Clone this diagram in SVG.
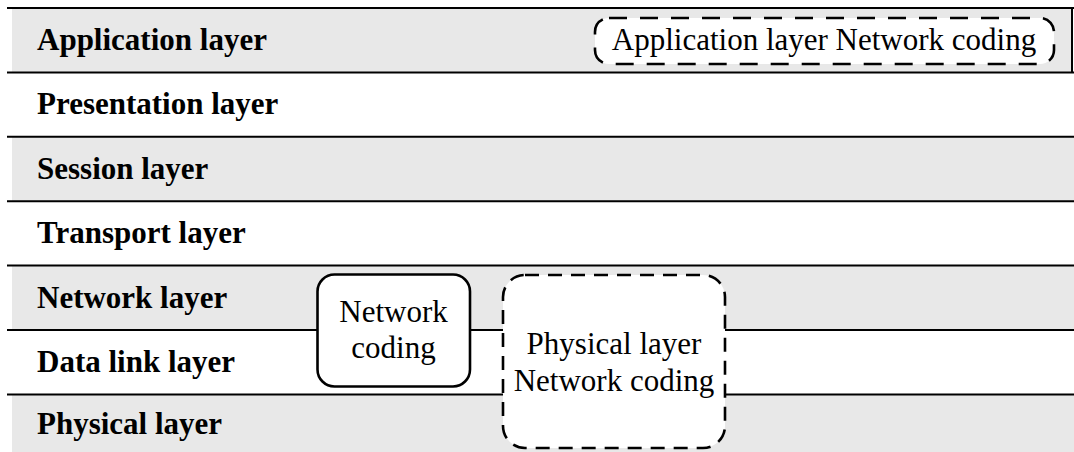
<svg xmlns="http://www.w3.org/2000/svg" width="1074" height="452" viewBox="0 0 1074 452">
  <style>
    .band { fill: #e8e8e8; }
    .rule { stroke: #000; stroke-width: 2; fill: none; }
    .layer { font-family: "Liberation Serif", "Times New Roman", serif; font-weight: bold; font-size: 31px; fill: #000; }
    .nc { font-family: "Liberation Serif", "Times New Roman", serif; font-size: 31px; fill: #000; text-anchor: middle; }
    .box { fill: #fff; stroke: #000; stroke-width: 2.6; }
  </style>
  <rect width="1074" height="452" fill="#fff"/>

  <!-- layer bands -->
  <g id="layers">
    <rect class="band" x="12" y="8" width="1060" height="64.4"/>
    <rect class="band" x="12" y="136.8" width="1062" height="64.4"/>
    <rect class="band" x="12" y="265.6" width="1062" height="64.4"/>
    <rect class="band" x="12" y="394.4" width="1062" height="60"/>
  </g>

  <!-- separating rules -->
  <g id="rules">
    <line class="rule" x1="7" y1="8" x2="1074" y2="8"/>
    <line class="rule" x1="7" y1="72.4" x2="1074" y2="72.4"/>
    <line class="rule" x1="1072" y1="8" x2="1072" y2="72.4"/>
    <line class="rule" x1="7" y1="136.8" x2="1074" y2="136.8"/>
    <line class="rule" x1="7" y1="201.2" x2="1074" y2="201.2"/>
    <line class="rule" x1="7" y1="265.6" x2="1074" y2="265.6"/>
    <line class="rule" x1="7" y1="330" x2="1074" y2="330"/>
    <line class="rule" x1="7" y1="394.4" x2="1074" y2="394.4"/>
  </g>

  <g id="layer-labels">
    <text class="layer" x="37" y="49.5">Application layer</text>
    <text class="layer" x="37" y="114">Presentation layer</text>
    <text class="layer" x="37" y="178.5">Session layer</text>
    <text class="layer" x="37" y="243">Transport layer</text>
    <text class="layer" x="37" y="307.5">Network layer</text>
    <text class="layer" x="37" y="372">Data link layer</text>
    <text class="layer" x="37" y="434">Physical layer</text>
  </g>

  <g id="app-nc">
    <rect class="box" x="595" y="18" width="459" height="46" rx="14" stroke-dasharray="18 13"/>
    <text class="nc" x="824" y="50">Application layer Network coding</text>
  </g>

  <g id="net-nc">
    <rect class="box" x="317.5" y="274.5" width="152.5" height="112" rx="17"/>
    <text class="nc" x="393.5" y="322">Network</text>
    <text class="nc" x="393.5" y="358">coding</text>
  </g>

  <g id="phy-nc">
    <rect class="box" x="503" y="275" width="222" height="173" rx="22" stroke-dasharray="14 9"/>
    <text class="nc" x="614" y="354">Physical layer</text>
    <text class="nc" x="614" y="391">Network coding</text>
  </g>
</svg>
